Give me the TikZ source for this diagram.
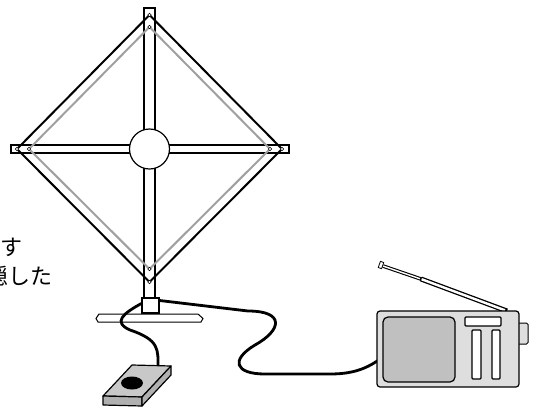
\documentclass[tikz,border=0pt]{standalone}
\usepackage{fontspec}
\usepackage{tikz}
\usetikzlibrary{calc}
\newfontfamily\jpfont{Noto Sans CJK JP}
\definecolor{wiregray}{RGB}{160,160,160}
\definecolor{radiobody}{RGB}{222,222,222}
\definecolor{radioscreen}{RGB}{192,192,192}
\definecolor{padtop}{RGB}{200,200,200}
\definecolor{padside}{RGB}{176,176,176}

\begin{document}
\begin{tikzpicture}[x=1pt, y=-1pt,
    bar/.style={draw, fill=white, line width=1.2pt},
    wire/.style={line width=2pt, line join=miter},
    hole/.style={circle, draw, fill=white, line width=0.6pt, inner sep=0pt, minimum size=3.6pt},
    cable/.style={line width=2.8pt, line cap=round},
    note/.style={anchor=west, font=\jpfont\fontsize{22}{26}\selectfont, inner sep=0pt}]
    \useasboundingbox (0,0) rectangle (536,408);
    \clip (0,0) rectangle (536,408);

    % caption text at the left edge
    \node[note] (noteA) at (0,247) {す};
    \node[note] (noteB) at (-14,276) {隠した};

    % loop frame: mast, cross bar and hub
    \draw[bar] (144,8) rectangle (155,298);
    \draw[bar] (11,145) rectangle (289,153);
    \node[circle, draw, fill=white, line width=1.2pt, minimum size=40pt, inner sep=0pt] (hub) at (149.5,149) {};

    % fixing points of the two loops
    \coordinate (topout) at (149.5,15);
    \coordinate (topin) at (149.5,27);
    \coordinate (leftout) at (17,149);
    \coordinate (leftin) at (29,149);
    \coordinate (rightout) at (282,149);
    \coordinate (rightin) at (270,149);
    \coordinate (botout) at (149.5,282);
    \coordinate (botin) at (149.5,269);

    \draw[wire, wiregray] (topin) -- (rightin) -- (botin) -- (leftin) -- cycle;
    \draw[wire] (topout) -- (rightout) -- (botout) -- (leftout) -- cycle;
    \foreach \p in {topout, topin, leftout, leftin, rightout, rightin, botout, botin}
        \node[hole] at (\p) {};

    % stand
    \draw[fill=white, line width=1pt] (99,314) -- (198,314) -- (203,318.5) -- (201,322) -- (98,322) -- (96,318.5) -- cycle;
    \node[draw, fill=white, line width=1.2pt, minimum width=17pt, minimum height=15pt, inner sep=0pt] (foot) at (150.5,305.5) {};

    % control pad and radio
    \coordinate (padin) at (158,368);
    \coordinate (radioin) at (380,359);

    \draw[cable] ($(foot.west)+(0,-2)$) .. controls (124,313) and (112,322) .. (130,330)
        .. controls (160,340) and (158,350) .. (padin);
    \draw[cable] ($(foot.east)+(0,-5)$) -- (248,311) .. controls (285,311) and (282,330) .. (255,345)
        .. controls (230,360) and (235,374) .. (265,374) -- (330,374)
        .. controls (350,374) and (365,370) .. (radioin);

    \draw[fill=padtop, line width=1.2pt, line join=round] (103,396) -- (132,365) -- (171,366) -- (142,397) -- cycle;
    \draw[fill=padside, line width=1.2pt, line join=round] (103,396) -- (142,397) -- (142,406) -- (103,405) -- cycle;
    \draw[fill=padside, line width=1.2pt, line join=round] (142,397) -- (171,366) -- (171,375) -- (142,406) -- cycle;
    \fill (132,383) ellipse [x radius=11, y radius=6.5];

    % telescopic aerial
    \draw[line width=5pt] (507,311) -- (421,279);
    \draw[white, line width=2.4pt] (505,310.3) -- (421,279);
    \draw[line width=3.6pt] (421.5,279.2) -- (383,266);
    \draw[white, line width=1.4pt] (420,278.7) -- (383,266);
    \node[draw, fill=white, line width=0.8pt, minimum width=3.5pt, minimum height=6.5pt, inner sep=0pt, rotate=-19] (tip) at (381,265) {};

    \draw[fill=radiobody, rounded corners=1.5pt, line width=1pt] (514,323) rectangle (528,344);
    \node[draw, fill=radiobody, rounded corners=3pt, line width=1.2pt, minimum width=142pt, minimum height=76pt, inner sep=0pt] (radio) at (448,349) {};
    \draw[fill=radioscreen, rounded corners=5pt, line width=1.2pt] (383,317) rectangle (455,382);
    \draw[fill=white, rounded corners=1pt, line width=1.2pt] (465,317) rectangle (501,326);
    \draw[fill=white, rounded corners=1pt, line width=1.2pt] (472,330) rectangle (481,379);
    \draw[fill=white, rounded corners=1pt, line width=1.2pt] (492,330) rectangle (500,379);
\end{tikzpicture}
\end{document}
